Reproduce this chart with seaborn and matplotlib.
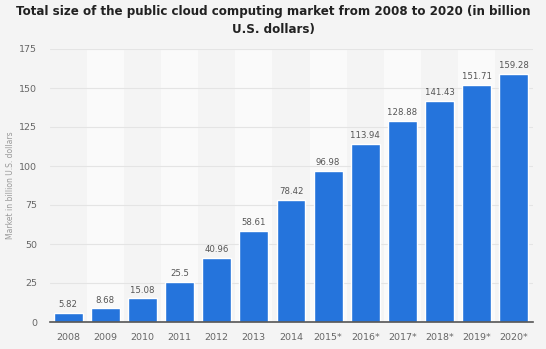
import matplotlib
matplotlib.use("Agg")
import matplotlib.pyplot as plt
import seaborn as sns
import pandas as pd

years = ["2008", "2009", "2010", "2011", "2012", "2013", "2014",
         "2015*", "2016*", "2017*", "2018*", "2019*", "2020*"]
values = [5.82, 8.68, 15.08, 25.5, 40.96, 58.61, 78.42,
          96.98, 113.94, 128.88, 141.43, 151.71, 159.28]
labels = ["5.82", "8.68", "15.08", "25.5", "40.96", "58.61", "78.42",
          "96.98", "113.94", "128.88", "141.43", "151.71", "159.28"]
yticks = [0, 25, 50, 75, 100, 125, 150, 175]

df = pd.DataFrame({"year": years, "value": values})

sns.set_theme(style="white")
plt.rcParams['font.family'] = ['DejaVu Sans']

bg = "#f4f4f4"
fig = plt.figure(figsize=(5.46, 3.49), dpi=100, facecolor=bg)
ax = fig.add_axes([49.5/546, 1 - 322/349, (532.5-49.5)/546, (322-49)/349])
ax.set_facecolor(bg)

# alternating bands
for i in range(len(years)):
    if i % 2 == 1:
        ax.axvspan(i - 0.5, i + 0.5, color="#fafafa", zorder=0, lw=0)

for t in yticks[1:]:
    ax.axhline(t, color="#e4e4e4", lw=0.8, zorder=1)

sns.barplot(data=df, x="year", y="value", color="#2574dc", saturation=1,
            width=0.78, ax=ax, zorder=3)

for i, (v, lab) in enumerate(zip(values, labels)):
    ax.text(i, v + 2.5, lab, ha="center", va="bottom", fontsize=6.8,
            color="#555555", fontstretch="condensed", zorder=4)

ax.set_xlim(-0.5, len(years) - 0.5)
ax.set_ylim(0, 175)
ax.set_yticks(yticks)
ax.set_yticklabels([str(t) for t in yticks], fontsize=6.8, color="#666666")
ax.set_xticks(range(len(years)))
ax.set_xticklabels(years, fontsize=6.8, color="#666666")
ax.tick_params(axis="both", length=0, pad=8)
ax.tick_params(axis="y", pad=9)
ax.set_xlabel("")
ax.set_ylabel("Market in billion U.S. dollars", fontsize=5.5, color="#999999")
ax.yaxis.set_label_coords(-(49.5 - 15) / 483, 0.5)
for s in ["top", "right", "left"]:
    ax.spines[s].set_visible(False)
ax.spines["bottom"].set_color("#555555")
ax.spines["bottom"].set_linewidth(1.2)
ax.spines["bottom"].set_zorder(5)

fig.text(0.5, 0.985, "Total size of the public cloud computing market from 2008 to 2020 (in billion\nU.S. dollars)",
         ha="center", va="top", fontsize=8.6, fontweight="bold", color="#222222", linespacing=1.45)

fig.savefig("out.png", dpi=100, facecolor=bg)
